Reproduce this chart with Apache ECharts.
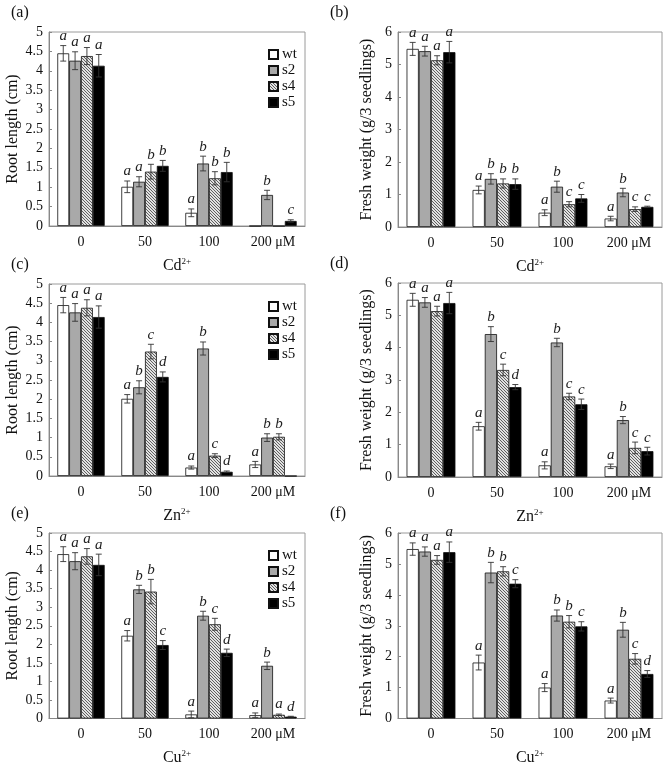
<!DOCTYPE html>
<html><head><meta charset="utf-8">
<script src="https://cdn.jsdelivr.net/npm/echarts@6/dist/echarts.min.js"></script>
<style>html,body{margin:0;padding:0;background:#fff}#c{width:665px;height:767px}</style>
</head><body><div id="c"></div>
<script>
const categories = ['0', '50', '100', '200 μM'];
const seriesNames = ['wt', 's2', 's4', 's5'];

// Rows: wt, s2, s4, s5 ; columns: 0, 50, 100, 200
const cdRootMean = [[4.45,1.01,0.34,0],[4.26,1.14,1.61,0.80],[4.38,1.40,1.23,0],[4.13,1.55,1.39,0.13]];
const cdRootErr  = [[0.20,0.15,0.10,0],[0.23,0.13,0.19,0.12],[0.22,0.19,0.17,0],[0.29,0.14,0.25,0.03]];
const cdRootLet  = [['a','a','a',''],['a','a','b','b'],['a','b','b',''],['a','b','b','c']];

const cdFreshMean = [[5.48,1.14,0.44,0.26],[5.41,1.48,1.24,1.06],[5.13,1.34,0.70,0.55],[5.38,1.32,0.88,0.62]];
const cdFreshErr  = [[0.20,0.12,0.09,0.07],[0.15,0.16,0.17,0.13],[0.14,0.14,0.08,0.07],[0.33,0.16,0.12,0.02]];
const cdFreshLet  = [['a','a','a','a'],['a','b','b','b'],['a','b','c','c'],['a','b','c','c']];

const znRootMean = [[4.45,2.01,0.22,0.30],[4.26,2.31,3.32,1.00],[4.38,3.24,0.53,1.02],[4.14,2.58,0.11,0]];
const znRootErr  = [[0.20,0.11,0.04,0.08],[0.23,0.17,0.17,0.10],[0.21,0.19,0.05,0.08],[0.29,0.13,0.02,0]];
const znRootLet  = [['a','a','a','a'],['a','b','b','b'],['a','c','c','b'],['a','d','d','']];

const znFreshMean = [[5.48,1.57,0.36,0.33],[5.40,4.42,4.16,1.76],[5.13,3.31,2.49,0.90],[5.38,2.78,2.25,0.80]];
const znFreshErr  = [[0.20,0.12,0.11,0.07],[0.15,0.23,0.13,0.11],[0.15,0.18,0.10,0.18],[0.33,0.08,0.16,0.12]];
const znFreshLet  = [['a','a','a','a'],['a','b','b','b'],['a','c','c','c'],['a','d','c','c']];

const cuRootMean = [[4.43,2.23,0.11,0.09],[4.24,3.48,2.77,1.42],[4.37,3.42,2.54,0.10],[4.14,1.98,1.77,0.05]];
const cuRootErr  = [[0.20,0.14,0.09,0.06],[0.23,0.11,0.12,0.10],[0.21,0.33,0.16,0.02],[0.29,0.12,0.10,0.01]];
const cuRootLet  = [['a','a','a','a'],['a','b','b','b'],['a','b','c','a'],['a','c','d','d']];

const cuFreshMean = [[5.48,1.81,1.00,0.58],[5.40,4.72,3.33,2.87],[5.13,4.76,3.13,1.93],[5.38,4.36,2.98,1.44]];
const cuFreshErr  = [[0.20,0.24,0.13,0.08],[0.15,0.33,0.18,0.24],[0.14,0.15,0.20,0.17],[0.33,0.13,0.15,0.11]];
const cuFreshLet  = [['a','a','a','a'],['a','b','b','b'],['a','b','b','c'],['a','c','c','d']];

const rootTicks = [0,0.5,1,1.5,2,2.5,3,3.5,4,4.5,5];
const freshTicks = [0,1,2,3,4,5,6];

const FONT = '"Liberation Serif","Times New Roman",serif';

function hatch() {
  const n = 3;
  const c = document.createElement('canvas');
  c.width = n; c.height = n;
  const g = c.getContext('2d');
  const img = g.createImageData(n, n);
  for (let y = 0; y < n; y++) for (let x = 0; x < n; x++) {
    const i = (y * n + x) * 4;
    const dark = (x === y);
    const v = dark ? 95 : 225;
    img.data[i] = v; img.data[i+1] = v; img.data[i+2] = v; img.data[i+3] = 255;
  }
  g.putImageData(img, 0, 0);
  return c;
}
const hatchImg = hatch();
const fills = ['#ffffff', '#a9a9a9', {image: hatchImg, repeat: 'repeat'}, '#000000'];

const panels = [
  {tag:'(a)', mean:cdRootMean, err:cdRootErr, let:cdRootLet, ion:'Cd', yname:'Root length (cm)', ticks:rootTicks, max:5, step:0.5, grid:{left:49, top:32, width:256, height:194}, legend:true},
  {tag:'(b)', mean:cdFreshMean, err:cdFreshErr, let:cdFreshLet, ion:'Cd', yname:'Fresh weight (g/3 seedlings)', ticks:freshTicks, max:6, step:1, grid:{left:398, top:32, width:264, height:195}, legend:false},
  {tag:'(c)', mean:znRootMean, err:znRootErr, let:znRootLet, ion:'Zn', yname:'Root length (cm)', ticks:rootTicks, max:5, step:0.5, grid:{left:49, top:284, width:256, height:192}, legend:true},
  {tag:'(d)', mean:znFreshMean, err:znFreshErr, let:znFreshLet, ion:'Zn', yname:'Fresh weight (g/3 seedlings)', ticks:freshTicks, max:6, step:1, grid:{left:398, top:283, width:264, height:194}, legend:false},
  {tag:'(e)', mean:cuRootMean, err:cuRootErr, let:cuRootLet, ion:'Cu', yname:'Root length (cm)', ticks:rootTicks, max:5, step:0.5, grid:{left:49, top:533, width:256, height:191}, legend:true},
  {tag:'(f)', mean:cuFreshMean, err:cuFreshErr, let:cuFreshLet, ion:'Cu', yname:'Fresh weight (g/3 seedlings)', ticks:freshTicks, max:6, step:1, grid:{left:398, top:533, width:264, height:194}, legend:false}
];

const GAP = 0.26;
const grid = [], xAxis = [], yAxis = [], series = [], legend = [], graphic = [];

panels.forEach((p, pi) => {
  grid.push(Object.assign({show:true, borderColor:'#9a9a9a', borderWidth:1, backgroundColor:'transparent'}, p.grid));
  xAxis.push({
    type:'category', gridIndex:pi, data:categories,
    axisLine:{lineStyle:{color:'#888'}}, axisTick:{show:false},
    axisLabel:{fontFamily:FONT, fontSize:14, color:'#111', margin:9},
    name:'{m|' + p.ion + '}{s|2+}', nameLocation:'middle', nameGap:31,
    nameTextStyle:{rich:{m:{fontFamily:FONT, fontSize:16, color:'#111'}, s:{fontFamily:FONT, fontSize:9, color:'#111', padding:[0,0,8,0]}}}
  });
  yAxis.push({
    type:'value', gridIndex:pi, min:0, max:p.max, interval:p.step,
    axisLine:{show:true, lineStyle:{color:'#888'}},
    axisTick:{show:true, inside:true, length:3, lineStyle:{color:'#888'}},
    splitLine:{show:false},
    axisLabel:{fontFamily:FONT, fontSize:14, color:'#111', margin:6, formatter: v => String(v)},
    name:p.yname, nameLocation:'middle', nameGap: p.max === 5 ? 28 : 23, nameRotate:90,
    nameTextStyle:{fontFamily:FONT, fontSize:16, color:'#111'}
  });
  seriesNames.forEach((sn, si) => {
    series.push({
      type:'bar', name:sn, xAxisIndex:pi, yAxisIndex:pi,
      data:p.mean[si], barGap:0, barCategoryGap:(GAP*100)+'%',
      itemStyle:{color:fills[si], borderColor:'#111', borderWidth:0.8},
      emphasis:{disabled:true}, animation:false
    });
  });
  const ebData = [];
  for (let si = 0; si < 4; si++) for (let ci = 0; ci < 4; ci++) {
    ebData.push([ci, si, p.mean[si][ci], p.err[si][ci], p.let[si][ci]]);
  }
  series.push({
    type:'custom', xAxisIndex:pi, yAxisIndex:pi, data:ebData, z:10, animation:false, silent:true,
    encode:{x:0, y:2},
    renderItem:(params, api) => {
      const ci = api.value(0), si = api.value(1), v = api.value(2), e = api.value(3);
      const letter = ebData[params.dataIndex][4];
      const band = api.size([1,0])[0];
      const bw = band * (1-GAP) / 4;
      const cx = api.coord([ci, 0])[0] + (si - 1.5) * bw;
      const children = [];
      const yTop = api.coord([ci, v + e])[1];
      if (e > 0) {
        const yBot = api.coord([ci, v - e])[1];
        const st = {stroke:'#333', lineWidth:0.9};
        children.push({type:'line', shape:{x1:cx, y1:yTop, x2:cx, y2:yBot}, style:st});
        children.push({type:'line', shape:{x1:cx-3, y1:yTop, x2:cx+3, y2:yTop}, style:st});
        children.push({type:'line', shape:{x1:cx-3, y1:yBot, x2:cx+3, y2:yBot}, style:st});
      }
      if (letter) {
        children.push({type:'text', x:cx, y:yTop - 2, style:{text:letter, fontFamily:FONT, fontStyle:'italic', fontSize:15, fill:'#222', align:'center', verticalAlign:'bottom'}});
      }
      return {type:'group', children};
    }
  });
  if (p.legend) {
    legend.push({
      data:seriesNames, orient:'vertical', left:p.grid.left + 214, top:p.grid.top + 10,
      itemWidth:9, itemHeight:9, itemGap:1, icon:'rect',
      textStyle:{fontFamily:FONT, fontSize:15, color:'#111', lineHeight:12, padding:[0,0,0,-1]},
      selectedMode:false
    });
  }
  graphic.push({type:'text', left: p.grid.left - 38 + (p.max === 6 ? -30 : 0), top: p.grid.top - 27,
    style:{text:p.tag, font:'16px ' + FONT, fill:'#111'}});
});

const chart = echarts.init(document.getElementById('c'), null, {renderer:'canvas'});
chart.setOption({animation:false, backgroundColor:'#fff', grid, xAxis, yAxis, series, legend, graphic});
</script></body></html>
